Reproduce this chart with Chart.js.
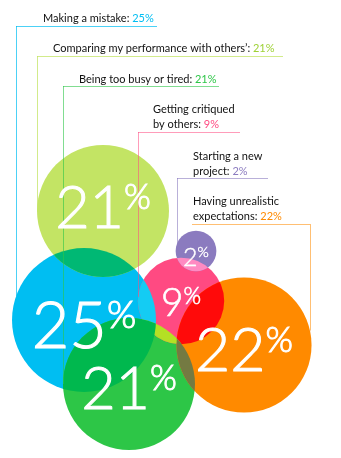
<!DOCTYPE html>
<html>
<head>
<meta charset="utf-8">
<script src="https://cdn.jsdelivr.net/npm/chart.js@4.4.0/dist/chart.umd.min.js"></script>
<style>
  html, body { margin: 0; padding: 0; background: #fff; }
  #wrap { width: 341px; height: 458px; }
</style>
</head>
<body>
<div id="wrap"><canvas id="worries" width="341" height="458"></canvas></div>
<script>
// what holds people back, share of answers in %
const categories = [
    'Making a mistake',
    'Comparing my performance with others’',
    'Being too busy or tired',
    'Getting critiqued by others',
    'Starting a new project',
    'Having unrealistic expectations'
];
const shares = [25, 21, 21, 9, 2, 22];

// bubble centres on the 341 x 458 grid
const centreX = [84, 103, 129, 181, 196, 244];
const centreY = [320, 211, 384, 301, 251, 345];

const bubbleColors = ['#00BEF2', '#C3E464', '#2DC647', '#FF4A82', '#8B7BBF', '#FF8A00'];
const valueColors  = ['#00BEF2', '#9ED135', '#2DC647', '#FF4A82', '#8B7BBF', '#FF8A00'];
const lineColors   = ['rgba(0,190,242,0.7)', 'rgba(195,228,100,0.75)', 'rgba(45,198,71,0.6)',
                      'rgba(255,74,130,0.55)', 'rgba(139,123,191,0.6)', 'rgba(255,138,0,0.55)'];

let bubbleData = categories.map(function (name, i) {
    return { x: centreX[i], y: centreY[i], r: 14.4 * Math.sqrt(shares[i]) };
});

// colour of the area where two bubbles overlap (clip to a, paint b)
const overlaps = [
    [0, 1, '#00B874'],
    [0, 3, '#14CCF3'],
    [3, 5, '#FF0A0A'],
    [3, 4, '#FF8AC2'],
    [2, 3, '#B4E024'],
    [2, 5, '#747A42'],
    [0, 2, '#00B84E']
];

function circles(chart) {
    return chart.getDatasetMeta(0).data.map(function (el) {
        return { x: el.x, y: el.y, r: el.options.radius };
    });
}

const overlapPlugin = {
    id: 'overlapTint',
    afterDatasetsDraw(chart) {
        let ctx = chart.ctx;
        let c = circles(chart);
        overlaps.forEach(function (o) {
            let a = c[o[0]], b = c[o[1]];
            ctx.save();
            ctx.beginPath();
            ctx.arc(a.x, a.y, a.r, 0, Math.PI * 2);
            ctx.clip();
            ctx.beginPath();
            ctx.arc(b.x, b.y, b.r, 0, Math.PI * 2);
            ctx.fillStyle = o[2];
            ctx.fill();
            ctx.restore();
        });
    }
};

const leaderPlugin = {
    id: 'leaders',
    afterDatasetsDraw(chart, args, opts) {
        let ctx = chart.ctx;
        let c = circles(chart);
        ctx.save();
        ctx.lineWidth = 1;
        opts.lines.forEach(function (l, i) {
            let b = c[i];
            let dx = l.vx - b.x;
            let yEnd = Math.abs(dx) < b.r ? b.y - Math.sqrt(b.r * b.r - dx * dx) : b.y;
            ctx.strokeStyle = lineColors[i];
            ctx.beginPath();
            ctx.moveTo(l.x1, l.y + 0.5);
            ctx.lineTo(l.x2, l.y + 0.5);
            ctx.moveTo(l.vx + 0.5, l.y);
            ctx.lineTo(l.vx + 0.5, yEnd);
            ctx.stroke();
        });

        // category text with the value in the bubble colour
        ctx.textBaseline = 'alphabetic';
        ctx.font = '11px Lato';
        opts.text.forEach(function (t, i) {
            let words = categories[i].split(' ');
            let rows = t.wrap ? [words.slice(0, t.wrap).join(' '), words.slice(t.wrap).join(' ')] : [categories[i]];
            rows.forEach(function (row, k) {
                let y = t.y + k * 15;
                if (k < rows.length - 1) {
                    ctx.fillStyle = '#111111';
                    ctx.fillText(row, t.x, y);
                    return;
                }
                let head = row + ': ';
                ctx.fillStyle = '#111111';
                ctx.fillText(head, t.x, y);
                ctx.fillStyle = valueColors[i];
                ctx.fillText(shares[i] + '%', t.x + ctx.measureText(head).width, y);
            });
        });
        ctx.restore();
    }
};

const valuePlugin = {
    id: 'bubbleValues',
    afterDatasetsDraw(chart, args, opts) {
        let ctx = chart.ctx;
        let c = circles(chart);
        ctx.save();
        ctx.fillStyle = '#ffffff';
        ctx.strokeStyle = '#ffffff';
        ctx.textBaseline = 'alphabetic';
        c.forEach(function (b, i) {
            let size = Math.max(25, b.r * 0.9);
            let small = size * 0.58;
            let num = String(shares[i]);
            ctx.font = '300 ' + size + 'px Lato';
            let wNum = ctx.measureText(num).width;
            ctx.font = '300 ' + small + 'px Lato';
            let wPct = ctx.measureText('%').width;
            let gap = 0;
            let left = b.x - (wNum + gap + wPct) / 2;
            let base = b.y + size * 0.36 + opts.shift[i];
            ctx.lineWidth = size / 60;
            ctx.font = '300 ' + size + 'px Lato';
            ctx.fillText(num, left, base);
            ctx.strokeText(num, left, base);
            let pBase = base - size * 0.72 + small * 0.72 - 1;
            ctx.font = '300 ' + small + 'px Lato';
            ctx.fillText('%', left + wNum + gap, pBase);
            ctx.strokeText('%', left + wNum + gap, pBase);
        });
        ctx.restore();
    }
};

new Chart(document.getElementById('worries'), {
    type: 'bubble',
    data: {
        datasets: [{
            data: bubbleData,
            backgroundColor: bubbleColors,
            borderWidth: 0,
            hoverRadius: 0,
            clip: false
        }]
    },
    options: {
        responsive: false,
        animation: false,
        devicePixelRatio: 1,
        events: [],
        layout: { padding: 0, autoPadding: false },
        scales: {
            x: { type: 'linear', min: 0, max: 341, display: false },
            y: { type: 'linear', min: 0, max: 458, reverse: true, display: false }
        },
        plugins: {
            legend: { display: false },
            tooltip: { enabled: false },
            leaders: {
                lines: [
                    { x1: 16, x2: 157, y: 26, vx: 16 },
                    { x1: 37, x2: 283, y: 56, vx: 37 },
                    { x1: 63, x2: 219, y: 86, vx: 63 },
                    { x1: 138, x2: 240, y: 132, vx: 138 },
                    { x1: 177, x2: 268, y: 178, vx: 177 },
                    { x1: 192, x2: 310, y: 224, vx: 310 }
                ],
                text: [
                    { x: 43, y: 22 },
                    { x: 53, y: 52 },
                    { x: 79, y: 83 },
                    { x: 153, y: 113, wrap: 2 },
                    { x: 193, y: 160, wrap: 3 },
                    { x: 193, y: 205, wrap: 2 }
                ]
            },
            bubbleValues: {
                shift: [5, -4.5, 4, 1.5, 6, 4.5]
            }
        }
    },
    plugins: [overlapPlugin, leaderPlugin, valuePlugin]
});
</script>
</body>
</html>
